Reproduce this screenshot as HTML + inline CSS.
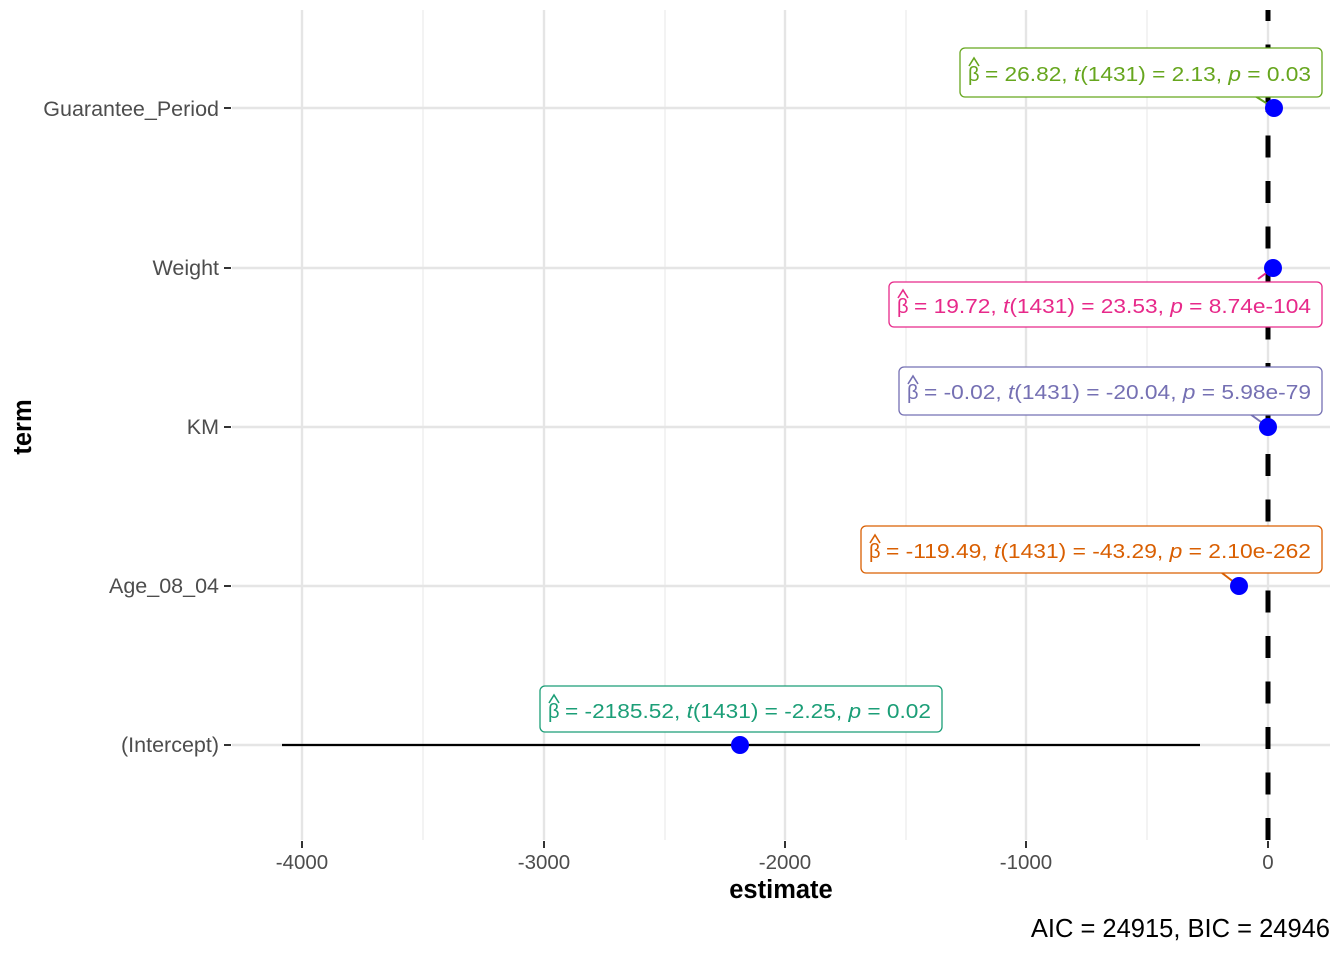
<!DOCTYPE html>
<html><head><meta charset="utf-8"><style>
body{margin:0;background:#fff}
svg{display:block;font-family:"Liberation Sans",Arial,sans-serif}
</style></head><body>
<svg width="1344" height="960" viewBox="0 0 1344 960" xmlns="http://www.w3.org/2000/svg">
<rect width="1344" height="960" fill="#fff"/>
<g stroke="#ebebeb" stroke-width="1.2">
<line x1="423" y1="10" x2="423" y2="840"/><line x1="665" y1="10" x2="665" y2="840"/>
<line x1="906" y1="10" x2="906" y2="840"/><line x1="1147" y1="10" x2="1147" y2="840"/>
</g>
<g stroke="#e5e5e5" stroke-width="2.4">
<line x1="302" y1="10" x2="302" y2="840"/><line x1="544" y1="10" x2="544" y2="840"/>
<line x1="785" y1="10" x2="785" y2="840"/><line x1="1026" y1="10" x2="1026" y2="840"/>
<line x1="1268" y1="10" x2="1268" y2="840"/>
<line x1="232" y1="108" x2="1330" y2="108"/><line x1="232" y1="268" x2="1330" y2="268"/>
<line x1="232" y1="427" x2="1330" y2="427"/><line x1="232" y1="586" x2="1330" y2="586"/>
<line x1="232" y1="745" x2="1330" y2="745"/>
</g>
<line x1="1268" y1="10" x2="1268" y2="840" stroke="#000" stroke-width="5" stroke-dasharray="22 23.5" stroke-dashoffset="11"/>
<line x1="282" y1="745" x2="1200" y2="745" stroke="#000" stroke-width="2.2"/>
<g stroke-width="2">
<line x1="1255" y1="96" x2="1274" y2="108" stroke="#66A61E"/>
<line x1="1258" y1="279" x2="1273" y2="268" stroke="#E7298A"/>
<line x1="1250" y1="414" x2="1268" y2="427" stroke="#7570B3"/>
<line x1="1222" y1="573" x2="1239" y2="586" stroke="#D95F02"/>
</g>
<g fill="#0000ff">
<circle cx="1274" cy="108" r="9"/><circle cx="1273" cy="268" r="9"/>
<circle cx="1268" cy="427" r="9"/><circle cx="1239" cy="586" r="9"/>
<circle cx="740" cy="745" r="9"/>
</g>
<g fill="#fff" stroke-width="1.3">
<rect x="960" y="48" width="362" height="49" rx="5" stroke="#66A61E"/>
<rect x="889" y="282" width="433" height="45" rx="5" stroke="#E7298A"/>
<rect x="899" y="367" width="423" height="48" rx="5" stroke="#7570B3"/>
<rect x="861" y="526" width="461" height="47" rx="5" stroke="#D95F02"/>
<rect x="540" y="686" width="402" height="46" rx="5" stroke="#1B9E77"/>
</g>
<g font-size="20" stroke-width="1.6">
<g fill="#66A61E" stroke="#66A61E">
<text x="968" y="81" stroke="none">β</text><polyline fill="none" points="969,66 974,58 979,66"/>
<text x="985" y="81" stroke="none" textLength="326" lengthAdjust="spacingAndGlyphs">= 26.82, <tspan font-style="italic">t</tspan>(1431) = 2.13, <tspan font-style="italic">p</tspan> = 0.03</text></g>
<g fill="#E7298A" stroke="#E7298A">
<text x="897" y="313" stroke="none">β</text><polyline fill="none" points="898,298 903,290 908,298"/>
<text x="914" y="313" stroke="none" textLength="397" lengthAdjust="spacingAndGlyphs">= 19.72, <tspan font-style="italic">t</tspan>(1431) = 23.53, <tspan font-style="italic">p</tspan> = 8.74e-104</text></g>
<g fill="#7570B3" stroke="#7570B3">
<text x="907" y="399" stroke="none">β</text><polyline fill="none" points="908,384 913,376 918,384"/>
<text x="924" y="399" stroke="none" textLength="387" lengthAdjust="spacingAndGlyphs">= -0.02, <tspan font-style="italic">t</tspan>(1431) = -20.04, <tspan font-style="italic">p</tspan> = 5.98e-79</text></g>
<g fill="#D95F02" stroke="#D95F02">
<text x="869" y="558" stroke="none">β</text><polyline fill="none" points="870,543 875,535 880,543"/>
<text x="886" y="558" stroke="none" textLength="425" lengthAdjust="spacingAndGlyphs">= -119.49, <tspan font-style="italic">t</tspan>(1431) = -43.29, <tspan font-style="italic">p</tspan> = 2.10e-262</text></g>
<g fill="#1B9E77" stroke="#1B9E77">
<text x="548" y="718" stroke="none">β</text><polyline fill="none" points="549,703 554,695 559,703"/>
<text x="565" y="718" stroke="none" textLength="366" lengthAdjust="spacingAndGlyphs">= -2185.52, <tspan font-style="italic">t</tspan>(1431) = -2.25, <tspan font-style="italic">p</tspan> = 0.02</text></g>
</g>
<g stroke="#333" stroke-width="2">
<line x1="224" y1="108" x2="231" y2="108"/><line x1="224" y1="268" x2="231" y2="268"/>
<line x1="224" y1="427" x2="231" y2="427"/><line x1="224" y1="586" x2="231" y2="586"/>
<line x1="224" y1="745" x2="231" y2="745"/>
<line x1="302" y1="841" x2="302" y2="848"/><line x1="544" y1="841" x2="544" y2="848"/>
<line x1="785" y1="841" x2="785" y2="848"/><line x1="1026" y1="841" x2="1026" y2="848"/>
<line x1="1268" y1="841" x2="1268" y2="848"/>
</g>
<g font-size="21.5" fill="#4d4d4d" text-anchor="end">
<text x="219" y="116">Guarantee_Period</text>
<text x="219" y="275">Weight</text>
<text x="219" y="434">KM</text>
<text x="219" y="593">Age_08_04</text>
<text x="219" y="752">(Intercept)</text>
</g>
<g font-size="20.5" fill="#4d4d4d" text-anchor="middle">
<text x="302" y="869">-4000</text><text x="544" y="869">-3000</text>
<text x="785" y="869">-2000</text><text x="1026" y="869">-1000</text>
<text x="1268" y="869">0</text>
</g>
<text x="781" y="898" font-size="25.5" font-weight="bold" text-anchor="middle">estimate</text>
<text x="31" y="427" font-size="25.5" font-weight="bold" text-anchor="middle" transform="rotate(-90 31 427)">term</text>
<text x="1330" y="937" font-size="25.5" text-anchor="end">AIC = 24915, BIC = 24946</text>
</svg>
</body></html>
